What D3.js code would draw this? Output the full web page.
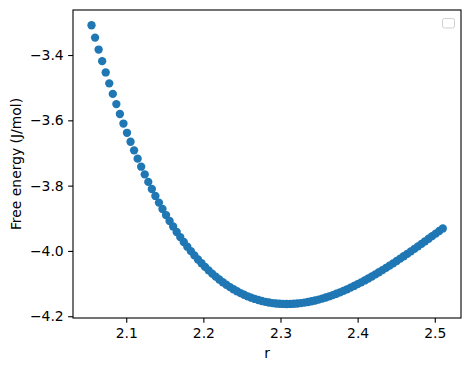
<!DOCTYPE html>
<html>
<head>
<meta charset="utf-8">
<script src="https://cdn.jsdelivr.net/npm/d3@7"></script>
<style>
  html, body { margin: 0; padding: 0; background: #fff; }
  svg { display: block; }
  text { font-family: "DejaVu Sans", sans-serif; }
</style>
</head>
<body>
<svg id="chart" width="470" height="371"></svg>
<script>
const rValues = [
  2.0550, 2.0596, 2.0642, 2.0688, 2.0734, 2.0780, 2.0826, 2.0872, 2.0918, 2.0964,
  2.1010, 2.1056, 2.1102, 2.1148, 2.1194, 2.1240, 2.1286, 2.1332, 2.1378, 2.1424,
  2.1470, 2.1516, 2.1562, 2.1608, 2.1654, 2.1700, 2.1746, 2.1792, 2.1838, 2.1884,
  2.1930, 2.1976, 2.2022, 2.2068, 2.2114, 2.2160, 2.2206, 2.2252, 2.2298, 2.2344,
  2.2390, 2.2436, 2.2482, 2.2528, 2.2574, 2.2620, 2.2666, 2.2712, 2.2758, 2.2804,
  2.2850, 2.2896, 2.2942, 2.2988, 2.3034, 2.3080, 2.3126, 2.3172, 2.3218, 2.3264,
  2.3310, 2.3356, 2.3402, 2.3448, 2.3494, 2.3540, 2.3586, 2.3632, 2.3678, 2.3724,
  2.3770, 2.3816, 2.3862, 2.3908, 2.3954, 2.4000, 2.4046, 2.4092, 2.4138, 2.4184,
  2.4230, 2.4276, 2.4322, 2.4368, 2.4414, 2.4460, 2.4506, 2.4552, 2.4598, 2.4644,
  2.4690, 2.4736, 2.4782, 2.4828, 2.4874, 2.4920, 2.4966, 2.5012, 2.5058, 2.5104
];
const freeEnergy = [
  -3.3088, -3.3466, -3.3833, -3.4188, -3.4533, -3.4867, -3.5190, -3.5503, -3.5806, -3.6099,
  -3.6382, -3.6655, -3.6919, -3.7174, -3.7420, -3.7656, -3.7885, -3.8104, -3.8316, -3.8519,
  -3.8714, -3.8901, -3.9081, -3.9253, -3.9418, -3.9576, -3.9726, -3.9870, -4.0007, -4.0137,
  -4.0261, -4.0378, -4.0489, -4.0595, -4.0694, -4.0787, -4.0875, -4.0958, -4.1035, -4.1106,
  -4.1173, -4.1234, -4.1291, -4.1343, -4.1390, -4.1432, -4.1470, -4.1503, -4.1533, -4.1558,
  -4.1579, -4.1596, -4.1609, -4.1618, -4.1623, -4.1625, -4.1623, -4.1618, -4.1609, -4.1597,
  -4.1582, -4.1564, -4.1542, -4.1518, -4.1490, -4.1460, -4.1427, -4.1391, -4.1353, -4.1312,
  -4.1268, -4.1223, -4.1175, -4.1125, -4.1072, -4.1018, -4.0962, -4.0904, -4.0844, -4.0782,
  -4.0719, -4.0654, -4.0587, -4.0520, -4.0450, -4.0380, -4.0309, -4.0236, -4.0163, -4.0088,
  -4.0013, -3.9937, -3.9860, -3.9783, -3.9705, -3.9627, -3.9548, -3.9469, -3.9390, -3.9311
];
const xTicks = [2.1, 2.2, 2.3, 2.4, 2.5];
const yTicks = [-4.2, -4.0, -3.8, -3.6, -3.4];
const xDomain = [2.031, 2.534];
const yDomain = [-4.2054, -3.2621];
const xLabel = "r";
const yLabel = "Free energy (J/mol)";

(function () {
  const data = rValues.map((r, i) => ({ r: r, f: freeEnergy[i] }));

  const pL = 73, pR = 461, pT = 10, pB = 318;
  const svg = d3.select("#chart");

  const x = d3.scaleLinear().domain(xDomain).range([pL, pR]);
  const y = d3.scaleLinear().domain(yDomain).range([pB, pT]);

  const fmt = d3.format(".1f");

  svg.append("defs").append("clipPath").attr("id", "clip")
    .append("rect").attr("x", pL).attr("y", pT)
    .attr("width", pR - pL).attr("height", pB - pT);

  svg.append("g").attr("clip-path", "url(#clip)")
    .selectAll("circle").data(data).enter().append("circle")
    .attr("cx", d => x(d.r))
    .attr("cy", d => y(d.f))
    .attr("r", 4.17)
    .attr("fill", "#1f77b4");

  const xAxis = d3.axisBottom(x).tickValues(xTicks).tickFormat(fmt).tickSize(4.86).tickPadding(4.5);
  const yAxis = d3.axisLeft(y).tickValues(yTicks).tickFormat(fmt).tickSize(4.86).tickPadding(4.5);

  const gx = svg.append("g").attr("transform", `translate(0,${pB})`).call(xAxis);
  const gy = svg.append("g").attr("transform", `translate(${pL},0)`).call(yAxis);

  [gx, gy].forEach(g => {
    g.select(".domain").remove();
    g.selectAll(".tick line").attr("stroke", "#000").attr("stroke-width", 1.1);
    g.selectAll(".tick text").attr("fill", "#000")
      .style("font-family", "'DejaVu Sans', sans-serif").style("font-size", "13.9px");
  });
  gx.selectAll(".tick text").attr("dy", "0.76em");

  svg.append("rect")
    .attr("x", pL).attr("y", pT)
    .attr("width", pR - pL).attr("height", pB - pT)
    .attr("fill", "none").attr("stroke", "#000").attr("stroke-width", 1.1);

  svg.append("text")
    .attr("x", (pL + pR) / 2).attr("y", 357.5)
    .attr("text-anchor", "middle")
    .style("font-size", "13.9px").attr("fill", "#000")
    .text(xLabel);

  svg.append("text")
    .attr("transform", `translate(20.5,${(pT + pB) / 2}) rotate(-90)`)
    .attr("text-anchor", "middle")
    .style("font-size", "13.9px").attr("fill", "#000")
    .text(yLabel);

  svg.append("rect")
    .attr("x", 442.5).attr("y", 18.5)
    .attr("width", 12).attr("height", 9.5)
    .attr("rx", 2).attr("ry", 2)
    .attr("fill", "#fff").attr("stroke", "#d0d0d0").attr("stroke-width", 1);
})();
</script>
</body>
</html>
